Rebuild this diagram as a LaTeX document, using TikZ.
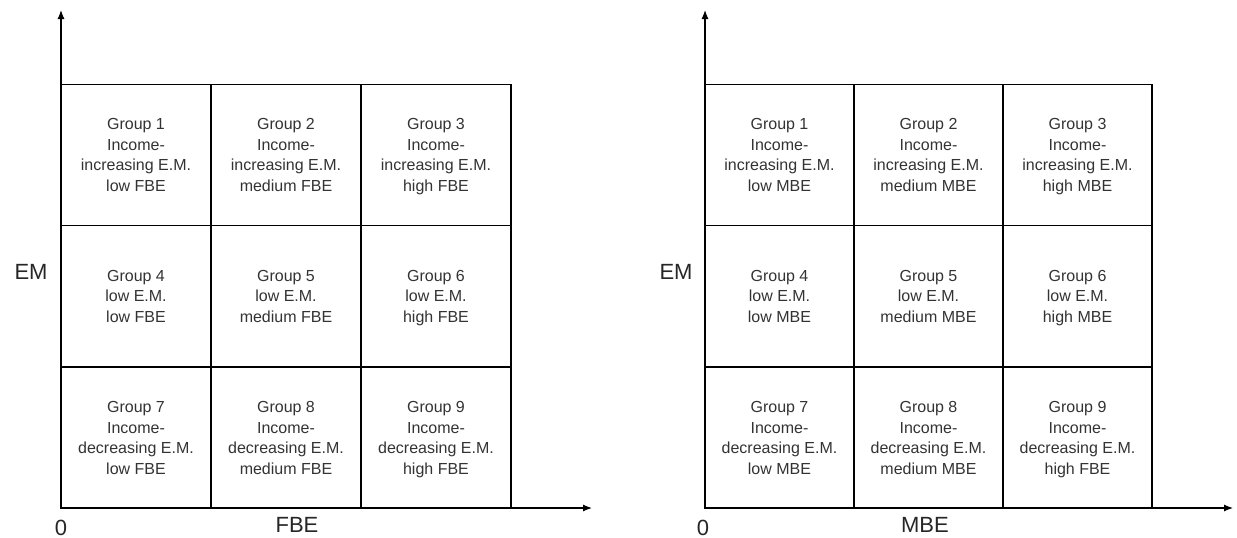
\documentclass[tikz,border=0pt]{standalone}
\usepackage{fontspec}
\setmainfont{Liberation Sans}
\usetikzlibrary{arrows.meta}

\begin{document}
\begin{tikzpicture}[x=1pt,y=-1pt,
        cell/.style={draw,line width=1.2pt,minimum width=150pt,minimum height=141.3pt,
            align=center,inner sep=0pt,text=black!80,font=\fontsize{16}{20.5}\selectfont,
            text depth=-2pt},
        axis/.style={line width=1.2pt,-{Latex[length=9pt,width=7pt]}},
        lab/.style={text=black!85,font=\fontsize{22}{26}\selectfont}]

        \useasboundingbox (0,0) rectangle (1237,538);

        % left panel (FBE)
        \node[cell] (f1) at (136,154.75) {Group 1\\Income-\\increasing E.M.\\low FBE};
        \node[cell] (f2) at (286,154.75) {Group 2\\Income-\\increasing E.M.\\medium FBE};
        \node[cell] (f3) at (436,154.75) {Group 3\\Income-\\increasing E.M.\\high FBE};
        \node[cell] (f4) at (136,296.25) {Group 4\\low E.M.\\low FBE};
        \node[cell] (f5) at (286,296.25) {Group 5\\low E.M.\\medium FBE};
        \node[cell] (f6) at (436,296.25) {Group 6\\low E.M.\\high FBE};
        \node[cell] (f7) at (136,437.75) {Group 7\\Income-\\decreasing E.M.\\low FBE};
        \node[cell] (f8) at (286,437.75) {Group 8\\Income-\\decreasing E.M.\\medium FBE};
        \node[cell] (f9) at (436,437.75) {Group 9\\Income-\\decreasing E.M.\\high FBE};

        \coordinate (O1) at (61,508); \coordinate (Y1) at (61,10); \coordinate (X1) at (592,508);
        \draw[axis] (O1) -- (Y1);
        \draw[axis] (O1) -- (X1);
        \node[lab] (em1) at (31,272) {EM};
        \node[lab] (zero1) at (61,528) {0};
        \node[lab] (fbe) at (297,525) {FBE};

        % right panel (MBE)
        \node[cell,minimum width=149pt] (m1) at (779.5,154.75) {Group 1\\Income-\\increasing E.M.\\low MBE};
        \node[cell,minimum width=149pt] (m2) at (928.5,154.75) {Group 2\\Income-\\increasing E.M.\\medium MBE};
        \node[cell,minimum width=149pt] (m3) at (1077.5,154.75) {Group 3\\Income-\\increasing E.M.\\high MBE};
        \node[cell,minimum width=149pt] (m4) at (779.5,296.25) {Group 4\\low E.M.\\low MBE};
        \node[cell,minimum width=149pt] (m5) at (928.5,296.25) {Group 5\\low E.M.\\medium MBE};
        \node[cell,minimum width=149pt] (m6) at (1077.5,296.25) {Group 6\\low E.M.\\high MBE};
        \node[cell,minimum width=149pt] (m7) at (779.5,437.75) {Group 7\\Income-\\decreasing E.M.\\low MBE};
        \node[cell,minimum width=149pt] (m8) at (928.5,437.75) {Group 8\\Income-\\decreasing E.M.\\medium MBE};
        \node[cell,minimum width=149pt] (m9) at (1077.5,437.75) {Group 9\\Income-\\decreasing E.M.\\high FBE};

        \coordinate (O2) at (705,508); \coordinate (Y2) at (705,10); \coordinate (X2) at (1233,508);
        \draw[axis] (O2) -- (Y2);
        \draw[axis] (O2) -- (X2);
        \node[lab] (em2) at (676,272) {EM};
        \node[lab] (zero2) at (703,528) {0};
        \node[lab] (mbe) at (925,525) {MBE};

\end{tikzpicture}
\end{document}
